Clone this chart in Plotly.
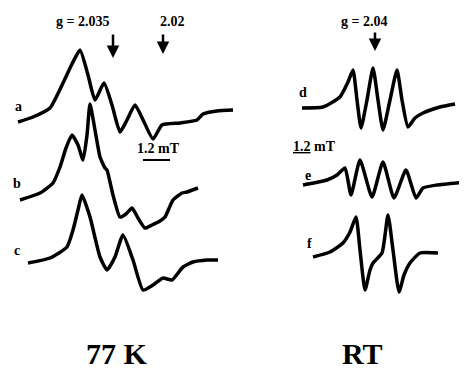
import plotly.graph_objects as go

# ---- traced spectra: field (horizontal, arbitrary units) and signal (derivative, up positive)
field_a = [18, 33, 50, 63, 72, 80, 88, 95, 104, 112, 120, 127, 135, 144, 153, 162, 180, 197, 203, 217, 233]
signal_a = [0, 5, 14, 39, 58, 72, 47, 22, 39, 17, -10, 2, 17, 0, -17, -3, -1, 2, 8, 11, 12]

field_b = [20, 40, 53, 60, 66, 72, 78, 83, 87, 90, 95, 100, 105, 107, 113, 120, 126, 132, 138, 145, 152, 160, 165, 173, 182, 187, 198]
signal_b = [0, 7, 17, 33, 52, 65, 55, 40, 65, 96, 70, 43, 32, 30, 5, -17, -14, -8, -18, -28, -25, -21, -17, 0, 7, 8, 12]

field_c = [28, 50, 67, 73, 78, 82, 90, 100, 107, 115, 123, 133, 143, 153, 163, 172, 183, 193, 207, 218]
signal_c = [0, 5, 16, 33, 53, 68, 46, 6, -7, 6, 28, 3, -27, -22, -15, -17, -4, 1, 3, 3]

field_d = [302, 323, 340, 348, 353, 357, 361, 367, 373, 378, 383, 390, 397, 402, 408, 415, 423, 440, 455]
signal_d = [0, 1, 11, 26, 38, 8, -20, 8, 40, 8, -22, 8, 38, 8, -19, -10, -5, 1, 4]

field_e = [303, 327, 337, 345, 351, 360, 372, 383, 394, 406, 416, 423, 437, 467]
signal_e = [0, 5, 10, 17, -10, 25, -12, 23, -13, 15, -13, -3, 0, 3]

field_f = [313, 330, 343, 350, 356, 360, 365, 370, 373, 382, 388, 393, 399, 404, 410, 420, 438]
signal_f = [0, 5, 14, 25, 40, 7, -33, -13, -6, 4, 42, 7, -35, -18, -6, 4, 4]

spectra_labels = ["a", "b", "c", "d", "e", "f"]
g_labels = ["g = 2.035", "2.02", "g = 2.04"]
scale_label = "1.2 mT"
temp_labels = ["77 K", "RT"]

# ---- layout constants (page pixel frame, y up); page body has an 8px margin
H = 372
W = 467
PAD = 8
baseline = {"a": 122, "b": 200, "c": 263, "d": 108, "e": 185, "f": 257}
label_pos = {"a": (18, 106), "b": (17, 183), "c": (17, 250), "d": (303, 92), "e": (308, 175), "f": (309, 243)}

series = {
    "a": (field_a, signal_a),
    "b": (field_b, signal_b),
    "c": (field_c, signal_c),
    "d": (field_d, signal_d),
    "e": (field_e, signal_e),
    "f": (field_f, signal_f),
}

fig = go.Figure()
for name in spectra_labels:
    fx, sy = series[name]
    y0 = H - baseline[name]
    fig.add_trace(go.Scatter(
        x=fx, y=[y0 + v for v in sy], mode="lines",
        line=dict(color="black", width=3.5, shape="spline", smoothing=0.5),
        showlegend=False, hoverinfo="skip", cliponaxis=False))

font_small = dict(family="Liberation Serif, DejaVu Serif, serif", size=14, color="black")
font_big = dict(family="Liberation Serif, DejaVu Serif, serif", size=30, color="black")

ann = []
for name in spectra_labels:
    lx, ly = label_pos[name]
    ann.append(dict(x=lx, y=H - ly, text="<b>%s</b>" % name, showarrow=False, font=font_small))

# g-value labels
ann.append(dict(x=82, y=H - 21, text="<b>%s</b>" % g_labels[0], showarrow=False, font=font_small))
ann.append(dict(x=172, y=H - 21, text="<b>%s</b>" % g_labels[1], showarrow=False, font=font_small))
ann.append(dict(x=364, y=H - 21, text="<b>%s</b>" % g_labels[2], showarrow=False, font=font_small))

# arrows
for ax_, ay0, ay1 in [(113, 33, 58), (163, 33, 54), (375, 31, 51)]:
    ann.append(dict(x=ax_, y=H - ay1, ax=ax_, ay=H - ay0, xref="x", yref="y", axref="x", ayref="y",
                    text="", showarrow=True, arrowhead=2, arrowsize=1.0, arrowwidth=2.5, arrowcolor="black"))

# scale labels
ann.append(dict(x=158, y=H - 148, text="<b>%s</b>" % scale_label, showarrow=False, font=font_small))
ann.append(dict(x=314, y=H - 146, text="<b><u>1.2</u> mT</b>", showarrow=False, font=font_small))

# temperature labels
ann.append(dict(x=117, y=H - 353, text="<b>%s</b>" % temp_labels[0], showarrow=False, font=font_big))
ann.append(dict(x=362, y=H - 353, text="<b>%s</b>" % temp_labels[1], showarrow=False, font=font_big))

shapes = [dict(type="line", x0=143, x1=170, y0=H - 160, y1=H - 160, line=dict(color="black", width=2))]

fig.update_layout(
    width=W - PAD, height=H - PAD, margin=dict(l=0, r=0, t=0, b=0),
    paper_bgcolor="white", plot_bgcolor="white",
    xaxis=dict(range=[PAD, W], visible=False, fixedrange=True),
    yaxis=dict(range=[0, H - PAD], visible=False, fixedrange=True),
    annotations=ann, shapes=shapes,
)

fig.write_html("out.html", config={"displayModeBar": False})
